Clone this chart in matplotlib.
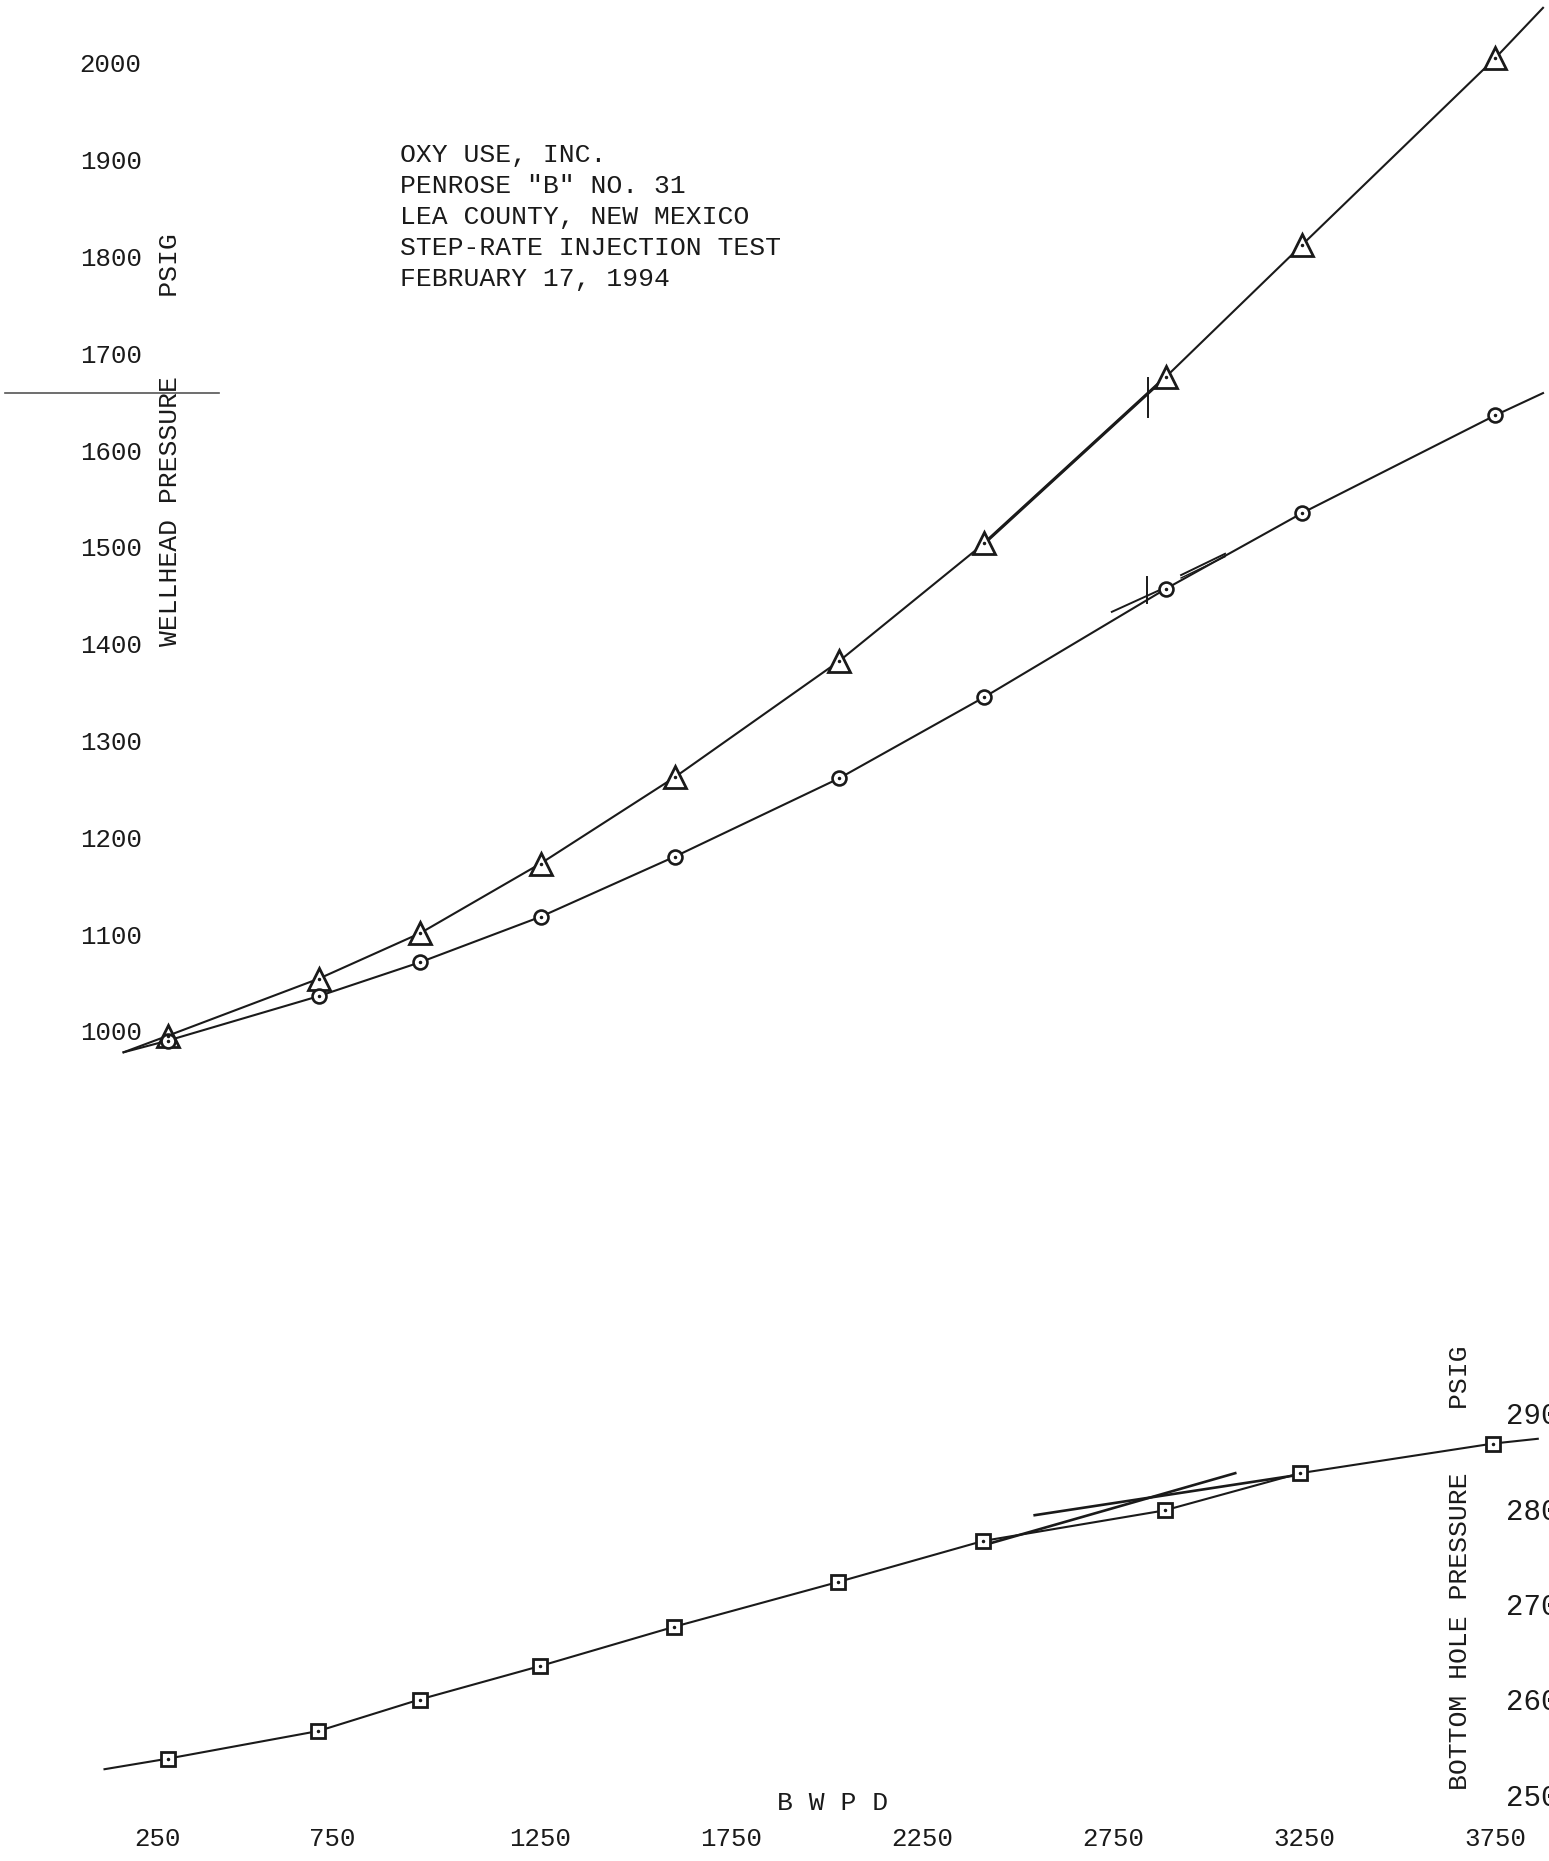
import matplotlib.pyplot as plt
from matplotlib.transforms import ScaledTranslation

# figure size in pixels (saved at dpi=100)
W, H = 1549, 1861

plt.rcParams['font.family'] = ['Liberation Mono', 'DejaVu Sans Mono']
INK = '#1a1a1a'

# ---- data ----
bwpd = [275, 670, 935, 1250, 1600, 2030, 2410, 2885, 3240, 3745]
tri_psi = [995, 1054, 1101, 1173, 1262, 1382, 1504, 1676, 1812, 2005]
circ_psi = [990, 1036, 1071, 1118, 1180, 1261, 1345, 1457, 1535, 1636]
bh_psi = [2538, 2567, 2600, 2635, 2676, 2723, 2766, 2798, 2837, 2868]

# hand drawn extensions of the curves (start / end points)
wh_start = (160, 978)
tri_end = (3870, 2057)
circ_end = (3870, 1659)
bh_start = (110, 2527)
bh_end = (3862, 2873)

# hand drawn break marks / tangent lines
tri_break_x = 2838
tri_break_psi = [1634, 1675]
circ_break_x = 2835
circ_break_psi = [1442, 1469]
circ_tan_a_x = [2743, 2882]
circ_tan_a_psi = [1433, 1458]
circ_tan_b_x = [2924, 3039]
circ_tan_b_psi = [1471, 1493]
bh_low_tan_x = [2415, 3070]
bh_low_tan_psi = [2762, 2837]
bh_high_tan_x = [2545, 3232]
bh_high_tan_psi = [2793, 2835]
stray_x = [-150, 409]
stray_psi = [1658.6, 1658.6]

bwpd_ticks = [250, 750, 1250, 1750, 2250, 2750, 3250, 3750]
wh_ticks = [1000, 1100, 1200, 1300, 1400, 1500, 1600, 1700, 1800, 1900, 2000]
bh_ticks = [2500, 2600, 2700, 2800, 2900]

title_lines = ['OXY USE, INC.', 'PENROSE "B" NO. 31', 'LEA COUNTY, NEW MEXICO',
               'STEP-RATE INJECTION TEST', 'FEBRUARY 17, 1994']

# ---- pixel anchors of the scales on the page ----
X_PX, X_VAL, X_SCALE = 158, 250, 0.3826       # px per BWPD
TOP_PY, TOP_VAL, TOP_SCALE = 63, 2000, 0.968   # px per psi
BOT_PY, BOT_VAL, BOT_SCALE = 1413, 2900, 0.955


def px_to_bwpd(px):
    return X_VAL + (px - X_PX) / X_SCALE


def add_axes(fig, left, top, right, bottom):
    return fig.add_axes([left / W, 1 - bottom / H, (right - left) / W, (bottom - top) / H])


def fx(px):
    return px / W


def fy(py):
    return 1 - py / H


fig = plt.figure(figsize=(W / 100, H / 100), dpi=100)
fig.patch.set_facecolor('white')

# ---- top panel: wellhead pressure ----
ax = add_axes(fig, 150, 0, W, 1080)
ax.set_xlim(px_to_bwpd(150), px_to_bwpd(W))
ax.set_ylim(TOP_VAL - (1080 - TOP_PY) / TOP_SCALE, TOP_VAL + TOP_PY / TOP_SCALE)

line_kw = dict(color=INK, lw=1.5, clip_on=False, zorder=2)
ax.plot([wh_start[0]] + bwpd + [tri_end[0]], [wh_start[1]] + tri_psi + [tri_end[1]], **line_kw)
ax.plot([wh_start[0]] + bwpd + [circ_end[0]], [wh_start[1]] + circ_psi + [circ_end[1]], **line_kw)
# heavier pen stroke between the 6th and 8th triangle
ax.plot(bwpd[6:8], tri_psi[6:8], color=INK, lw=2.3, clip_on=False, zorder=2)
ax.plot(bwpd, tri_psi, ls='none', marker='^', ms=16, mfc='white', mec=INK, mew=2.0,
        clip_on=False, zorder=3)
ax.plot(bwpd, circ_psi, ls='none', marker='o', ms=10, mfc='white', mec=INK, mew=1.9,
        clip_on=False, zorder=4)
ax.plot(bwpd, tri_psi, ls='none', marker='.', ms=3, color=INK, clip_on=False, zorder=5)
ax.plot(bwpd, circ_psi, ls='none', marker='.', ms=3, color=INK, clip_on=False, zorder=5)

mark_kw = dict(color=INK, lw=1.4, clip_on=False, zorder=2)
ax.plot([tri_break_x, tri_break_x], tri_break_psi, **mark_kw)
ax.plot([circ_break_x, circ_break_x], circ_break_psi, **mark_kw)
ax.plot(circ_tan_a_x, circ_tan_a_psi, **mark_kw)
ax.plot(circ_tan_b_x, circ_tan_b_psi, **mark_kw)
ax.plot(circ_tan_b_x, [p - 3 for p in circ_tan_b_psi], color=INK, lw=1.0, clip_on=False)
ax.plot(stray_x, stray_psi, color='#555555', lw=1.2, clip_on=False)

ax.set_yticks(wh_ticks)
ax.set_yticklabels([str(t) for t in wh_ticks])
ax.set_xticks([])
ax.tick_params(axis='y', length=0, pad=6, labelsize=18.5, labelcolor=INK)
for s in ax.spines.values():
    s.set_visible(False)
ax.patch.set_visible(False)

# ---- bottom panel: bottom hole pressure ----
bx = add_axes(fig, 150, 1290, 1495, 1810)
bx.set_xlim(px_to_bwpd(150), px_to_bwpd(1495))
bx.set_ylim(BOT_VAL - (1810 - BOT_PY) / BOT_SCALE, BOT_VAL + (BOT_PY - 1290) / BOT_SCALE)

bx.plot([bh_start[0]] + bwpd + [bh_end[0]], [bh_start[1]] + bh_psi + [bh_end[1]], **line_kw)
bx.plot(bh_low_tan_x, bh_low_tan_psi, color=INK, lw=1.9, clip_on=False, zorder=2)
bx.plot(bh_high_tan_x, bh_high_tan_psi, color=INK, lw=1.9, clip_on=False, zorder=2)
bx.plot(bwpd, bh_psi, ls='none', marker='s', ms=10, mfc='white', mec=INK, mew=2.0,
        clip_on=False, zorder=3)
bx.plot(bwpd, bh_psi, ls='none', marker='.', ms=3, color=INK, clip_on=False, zorder=5)

bx.set_xticks(bwpd_ticks)
bx.set_xticklabels([str(t) for t in bwpd_ticks])
bx.set_yticks(bh_ticks)
bx.set_yticklabels([str(t) for t in bh_ticks])
bx.yaxis.tick_right()
bx.tick_params(axis='y', length=0, pad=8, labelsize=21, labelcolor=INK)
bx.tick_params(axis='x', length=0, pad=12, labelsize=18.5, labelcolor=INK)
for s in bx.spines.values():
    s.set_visible(False)
bx.patch.set_visible(False)

# the typed "750" sits a little left of its true place on the original
lbl750 = bx.get_xticklabels()[1]
lbl750.set_transform(lbl750.get_transform() + ScaledTranslation(-0.17, 0, fig.dpi_scale_trans))

# ---- text ----
fig.text(fx(400), fy(217), '\n'.join(title_lines), ha='left', va='center',
         fontsize=19, linespacing=1.36, color=INK)
fig.text(fx(170), fy(440), 'WELLHEAD PRESSURE     PSIG', rotation=90,
         ha='center', va='center', fontsize=19, color=INK)
fig.text(fx(1460), fy(1568), 'BOTTOM HOLE PRESSURE    PSIG', rotation=90,
         ha='center', va='center', fontsize=19, color=INK)
fig.text(fx(833), fy(1803), 'B W P D', ha='center', va='center', fontsize=19, color=INK)

fig.savefig('out.png', dpi=100)
